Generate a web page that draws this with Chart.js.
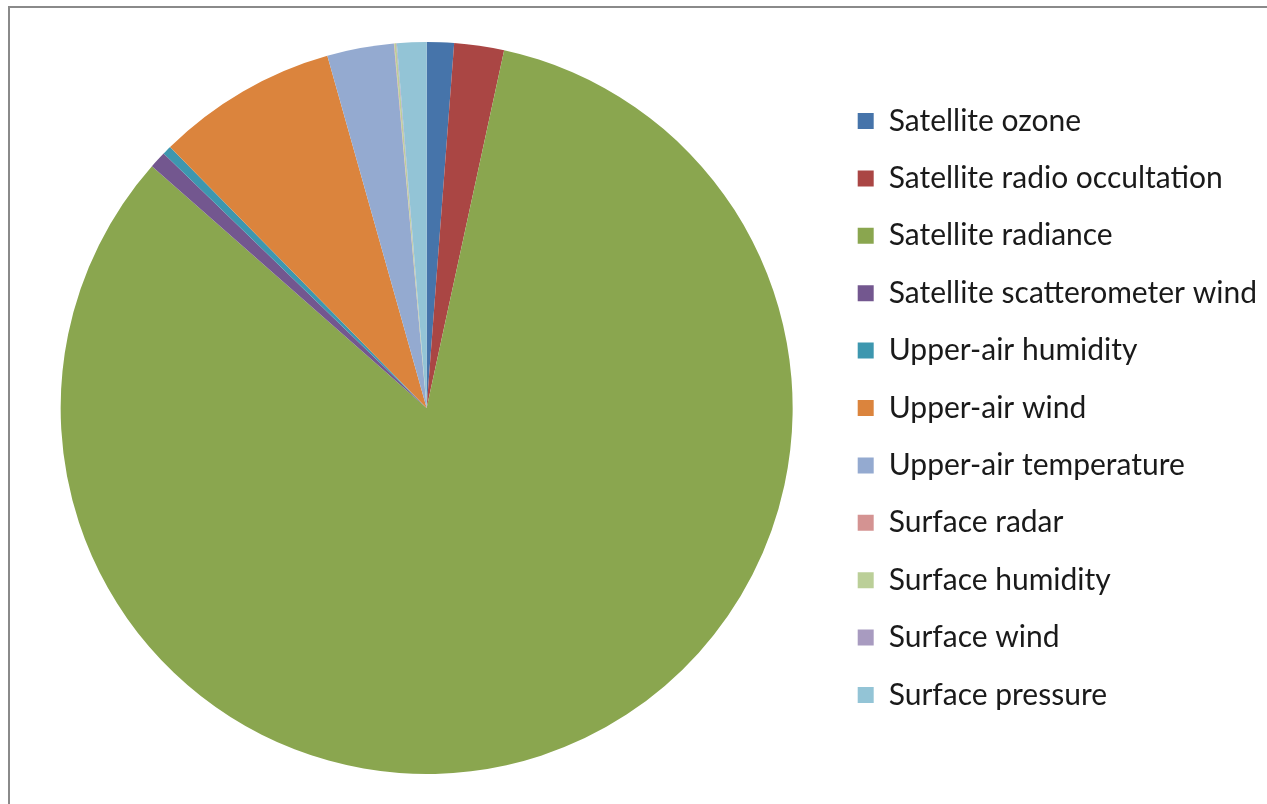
<!DOCTYPE html>
<html>
<head>
<meta charset="utf-8">
<title>Observations</title>
<script src="https://cdn.jsdelivr.net/npm/chart.js@4.4.1/dist/chart.umd.min.js"></script>
<style>
  html, body { margin: 0; padding: 0; background: #fff; overflow: hidden; }
  #frame {
    position: absolute; left: 8px; top: 6px;
    width: 1400px; height: 900px;
    border-left: 2px solid #8a8a8a; border-top: 2px solid #8a8a8a;
  }
  #wrap { position: absolute; left: 0; top: 0; width: 1267px; height: 804px; }
</style>
</head>
<body>
<div id="frame"></div>
<div id="wrap"><canvas id="obs-chart"></canvas></div>
<script>
// Observation types, in the order they go round the pie (clockwise from the top)
var obsTypes = [
  'Satellite ozone',
  'Satellite radio occultation',
  'Satellite radiance',
  'Satellite scatterometer wind',
  'Upper-air humidity',
  'Upper-air wind',
  'Upper-air temperature',
  'Surface radar',
  'Surface humidity',
  'Surface wind',
  'Surface pressure'
];

// Share of all observations used (%)
var obsShare = [1.2, 2.2, 83.2, 0.75, 0.4, 8.0, 2.95, 0.02, 0.08, 0.03, 1.3];

// One colour per slice
var sliceColors = [
  '#4674aa', '#aa4644', '#8aa64f', '#73578f', '#3d97af', '#db843d',
  '#94aad0', '#d49392', '#bbcf98', '#a89bc0', '#93c4d6'
];

var myChart;
var ctx = document.getElementById('obs-chart').getContext('2d');

generateChart();

function generateChart() {
  myChart = new Chart(ctx, {
    type: 'pie',
    data: {
      labels: obsTypes,
      datasets: [{
        data: obsShare,
        backgroundColor: sliceColors,
        borderWidth: 0,
        hoverOffset: 0
      }]
    },
    options: {
      responsive: true,
      maintainAspectRatio: false,
      animation: false,
      layout: {
        padding: { top: 42, bottom: 30, left: 23, right: 0 }
      },
      plugins: {
        tooltip: { enabled: false },
        legend: {
          position: 'right',
          align: 'center',
          labels: {
            boxWidth: 16,
            boxHeight: 16,
            padding: 27.4,
            color: '#1a1a1a',
            font: { family: 'Lato', size: 30 }
          }
        }
      }
    }
  });
}
</script>
</body>
</html>
